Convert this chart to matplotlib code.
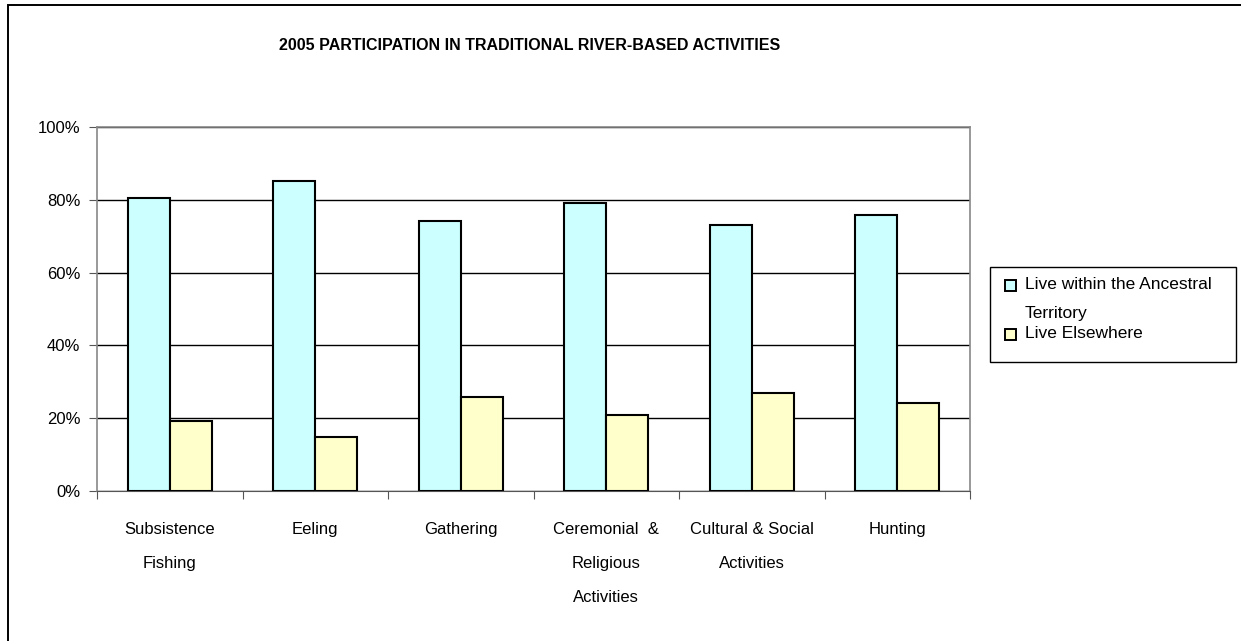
import matplotlib.pyplot as plt
from matplotlib.patches import Rectangle

categories = ["Subsistence\nFishing", "Eeling", "Gathering",
              "Ceremonial  &\nReligious\nActivities",
              "Cultural & Social\nActivities", "Hunting"]
within = [80.5, 85.2, 74.2, 79.1, 73.1, 75.8]
elsewhere = [19.2, 14.8, 25.8, 20.9, 26.9, 24.2]
series_names = ["Live within the Ancestral\nTerritory", "Live Elsewhere"]
colors = ["#ccffff", "#ffffcc"]
yticks = [0, 20, 40, 60, 80, 100]

plt.rcParams["font.family"] = ["Liberation Sans", "DejaVu Sans"]

W, H = 1241, 641
fig = plt.figure(figsize=(W/100, H/100), dpi=100)
ax = fig.add_axes([97/W, 150/H, 873/W, 364/H])

def fx(px):
    return px / W

def fy(py):
    return 1 - py / H

# whole-chart border, runs off the right and bottom edges
fig.patches.append(Rectangle((fx(8), -0.05), 1.1, fy(5) + 0.05,
                             transform=fig.transFigure, fill=False,
                             edgecolor="black", linewidth=1.4))

w = 0.29
x = range(len(categories))
ax.bar([i - w/2 for i in x], within, w, color=colors[0], edgecolor="black",
       linewidth=1.5, zorder=3)
ax.bar([i + w/2 for i in x], elsewhere, w, color=colors[1], edgecolor="black",
       linewidth=1.5, zorder=3)

ax.set_xlim(-0.5, len(categories) - 0.5)
ax.set_ylim(0, 100)
ax.set_yticks(yticks)
ax.set_yticklabels([f"{t}%" for t in yticks], fontsize=12)
ax.yaxis.grid(True, color="black", linewidth=1)
ax.set_axisbelow(True)

ax.set_xticks([i + 0.5 for i in range(len(categories) - 1)] + [-0.5, len(categories) - 0.5])
ax.set_xticklabels([])
ax.tick_params(axis="x", length=6, color="#555555", direction="out")
ax.tick_params(axis="y", length=6, color="#555555", direction="out", pad=6)
for i, lab in enumerate(categories):
    ax.text(i, -0.085, lab, transform=ax.get_xaxis_transform(), ha="center",
            va="top", fontsize=12, linespacing=2.6)

for s in ["left", "right", "top"]:
    ax.spines[s].set_color("#888888")
    ax.spines[s].set_linewidth(1.2)
ax.spines["bottom"].set_color("#555555")

fig.text(fx(530), fy(46), "2005 PARTICIPATION IN TRADITIONAL RIVER-BASED ACTIVITIES",
         ha="center", va="center", fontsize=11.5, fontweight="bold")

# legend box
fig.patches.append(Rectangle((fx(990), fy(362)), fx(1236) - fx(990), fy(267) - fy(362),
                             transform=fig.transFigure, fill=False,
                             edgecolor="black", linewidth=1))
for name, col, ty in zip(series_names, colors, [285, 334]):
    fig.patches.append(Rectangle((fx(1005), fy(ty + 6)), fx(11), 11/H,
                                 transform=fig.transFigure, facecolor=col,
                                 edgecolor="black", linewidth=1.4))
    fig.text(fx(1025), fy(ty - 8), name, ha="left", va="top", fontsize=12.5,
             linespacing=2.2)

fig.savefig("out.png", dpi=100)
